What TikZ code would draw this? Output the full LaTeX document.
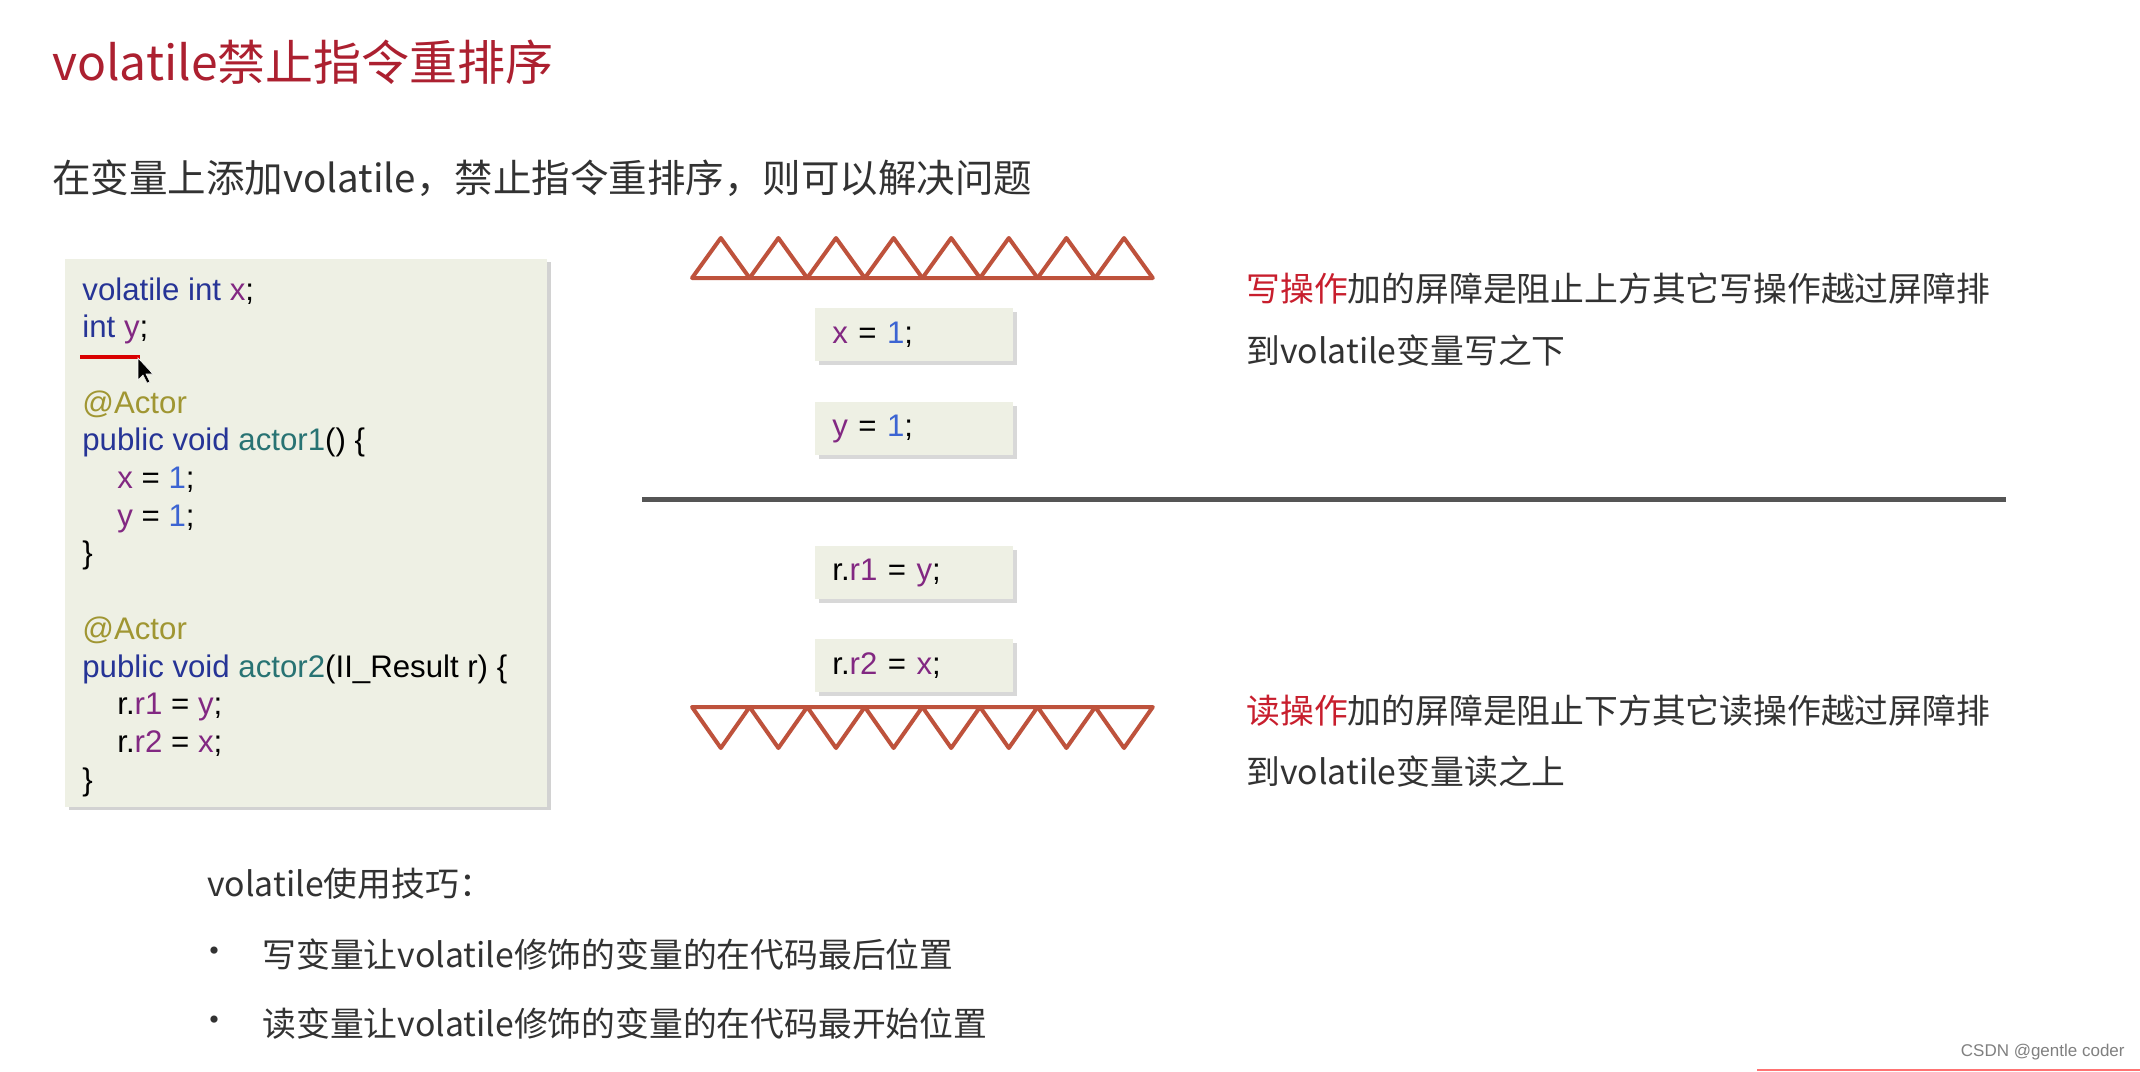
\documentclass[tikz,border=0pt]{standalone}
\usepackage{fontspec}
\setmainfont{Liberation Sans}
\newfontfamily\cjk{Noto Sans CJK SC}
\usetikzlibrary{shadows,positioning}

\definecolor{titlered}{RGB}{172,32,48}
\definecolor{warnred}{RGB}{200,30,45}
\definecolor{bodygray}{RGB}{50,50,50}
\definecolor{kwblue}{RGB}{38,52,150}
\definecolor{varpurple}{RGB}{130,40,130}
\definecolor{numblue}{RGB}{60,100,210}
\definecolor{annolive}{RGB}{160,150,50}
\definecolor{fnteal}{RGB}{40,115,115}
\definecolor{boxbg}{RGB}{238,240,228}
\definecolor{fence}{RGB}{190,82,60}
\definecolor{rulegray}{RGB}{85,85,85}

\newcommand{\kw}[1]{\textcolor{kwblue}{#1}}
\newcommand{\vr}[1]{\textcolor{varpurple}{#1}}
\newcommand{\nm}[1]{\textcolor{numblue}{#1}}
\newcommand{\an}[1]{\textcolor{annolive}{#1}}
\newcommand{\fn}[1]{\textcolor{fnteal}{#1}}
\newcommand{\codefont}{\fontsize{15.6}{18}\selectfont}

\begin{document}
\begin{tikzpicture}
    [x=0.5pt, y=-0.5pt,
    codeline/.style={anchor=base west, inner sep=0pt, font=\codefont},
    opbox/.style={anchor=north west, fill=boxbg, inner xsep=8.5pt, inner ysep=0pt,
        text width=82pt, align=left, minimum height=26.5pt, font=\codefont,
        drop shadow={shadow xshift=2pt, shadow yshift=-2pt, opacity=0.3}},
    note/.style={anchor=west, inner sep=0pt, text=bodygray, font=\cjk\fontsize{16.9}{20}\selectfont},
    fenceline/.style={draw=fence, line width=2pt, line join=round}]
        \useasboundingbox[fill=white] (0,0) rectangle (2140,1071);

        %% heading
        \node[anchor=west, inner sep=0pt, text=titlered, font=\cjk\fontsize{24}{28}\selectfont]
            (title) at (52,62) {volatile禁止指令重排序};
        \node[anchor=west, inner sep=0pt, text=bodygray, font=\cjk\fontsize{19.25}{24}\selectfont]
            (intro) at (52,178) {在变量上添加volatile，禁止指令重排序，则可以解决问题};

        %% code listing
        \fill[boxbg, drop shadow={shadow xshift=2pt, shadow yshift=-1.5pt, opacity=0.35}]
            (65,259) rectangle (547,807);
        \foreach \k/\ind/\txt in {
            0/0/{\kw{volatile int} \vr{x};},
            1/0/{\kw{int} \vr{y};},
            3/0/{\an{@Actor}},
            4/0/{\kw{public void} \fn{actor1}() \{},
            5/1/{\vr{x} = \nm{1};},
            6/1/{\vr{y} = \nm{1};},
            7/0/{\}},
            9/0/{\an{@Actor}},
            10/0/{\kw{public void} \fn{actor2}(II\_Result r) \{},
            11/1/{r.\vr{r1} = \vr{y};},
            12/1/{r.\vr{r2} = \vr{x};},
            13/0/{\}}}
            \node[codeline] (c\k) at (82+35*\ind, 300+37.7*\k) {\txt};
        \draw[red!85!black, line width=2pt] (80,357) -- (140,357);
        \filldraw[fill=black, draw=white, line width=0.3pt, shift={(138,358)}]
            (0,0) -- (0,22) -- (5,17) -- (9,25) -- (12,24) -- (8,16) -- (15,16) -- cycle;

        %% barriers
        \foreach \i in {0,...,7}
            \draw[fenceline] (692+57.6*\i,278) -- (720.8+57.6*\i,238) -- (749.6+57.6*\i,278) -- cycle;
        \foreach \i in {0,...,7}
            \draw[fenceline] (692+57.6*\i,707) -- (720.8+57.6*\i,748) -- (749.6+57.6*\i,707) -- cycle;

        \node[opbox] (wx) at (815,308) {\vr{x} = \nm{1};};
        \node[opbox, below=20pt of wx] (wy) {\vr{y} = \nm{1};};
        \draw[rulegray, line width=2.5pt] (642,499) -- (2006,499);
        \node[opbox] (ry) at (815,546) {r.\vr{r1} = \vr{y};};
        \node[opbox, below=19.5pt of ry] (rx) {r.\vr{r2} = \vr{x};};

        %% explanations
        \node[note] (w1) at (1246,289) {\textcolor{warnred}{写操作}加的屏障是阻止上方其它写操作越过屏障排};
        \node[note] (w2) at (1246,351) {到volatile变量写之下};
        \node[note] (r1) at (1246,711) {\textcolor{warnred}{读操作}加的屏障是阻止下方其它读操作越过屏障排};
        \node[note] (r2) at (1246,772) {到volatile变量读之上};

        %% tips
        \node[note] (tips) at (207,884) {volatile使用技巧：};
        \node[text=bodygray, font=\cjk\fontsize{17}{20}\selectfont] (b1) at (214,955) {•};
        \node[text=bodygray, font=\cjk\fontsize{17}{20}\selectfont] (b2) at (214,1024) {•};
        \node[note] (t1) at (262,955) {写变量让volatile修饰的变量的在代码最后位置};
        \node[note] (t2) at (262,1024) {读变量让volatile修饰的变量的在代码最开始位置};

        %% watermark
        \node[anchor=east, inner sep=0pt, text=gray, font=\fontsize{8.5}{10}\selectfont]
            (mark) at (2125,1052) {CSDN @gentle coder};
        \draw[red!55, line width=1pt] (1757,1070) -- (2140,1070);
    \end{tikzpicture}
\end{document}
